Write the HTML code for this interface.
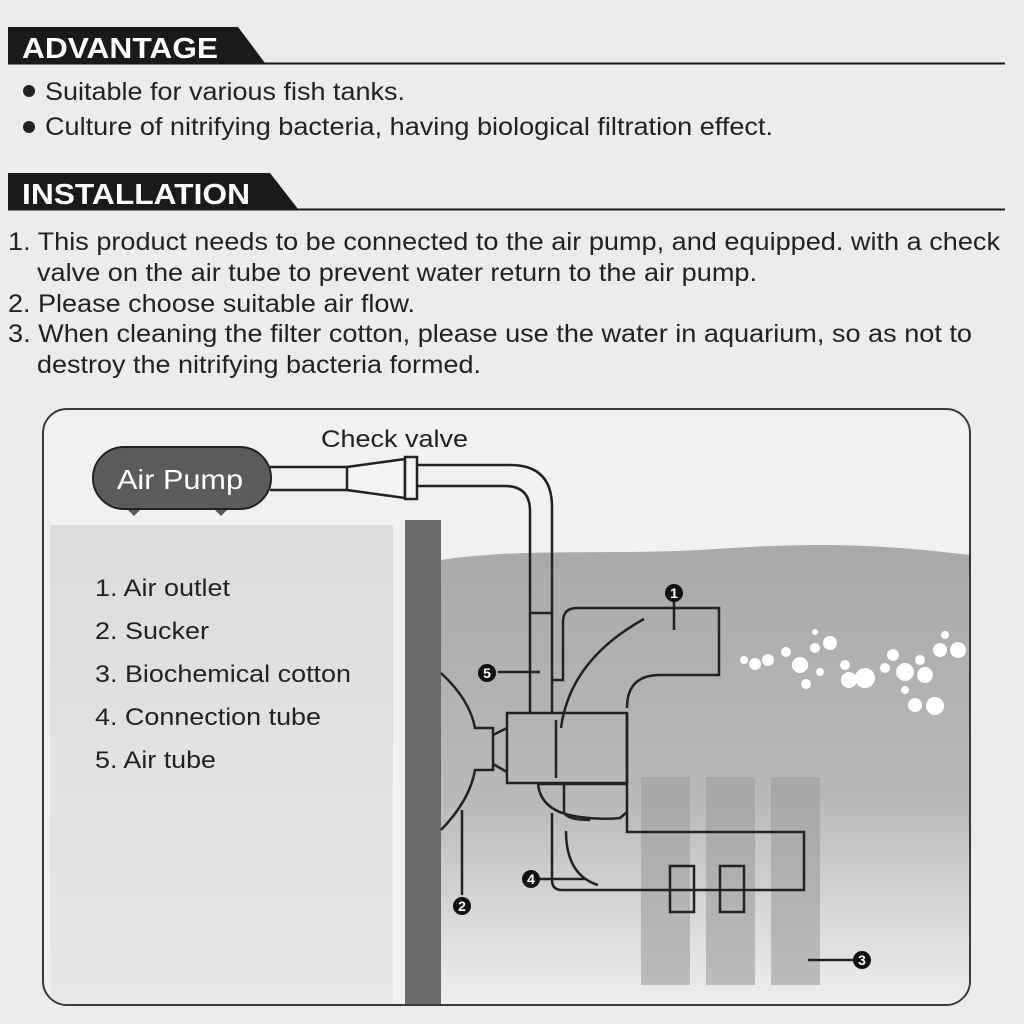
<!DOCTYPE html>
<html><head><meta charset="utf-8"><style>
html,body{margin:0;padding:0;background:#ececea;}
svg{display:block}
text{font-family:"Liberation Sans",Arial,sans-serif;}
</style></head><body>
<svg width="1024" height="1024" viewBox="0 0 1024 1024" xmlns="http://www.w3.org/2000/svg">
<defs>
<linearGradient id="wg" x1="0" y1="0" x2="0" y2="1">
<stop offset="0" stop-color="#a9a9a9"/><stop offset="0.55" stop-color="#b9b9b9"/><stop offset="1" stop-color="#efefef"/>
</linearGradient>
<linearGradient id="lg" x1="0" y1="0" x2="0" y2="1">
<stop offset="0" stop-color="#dcdcdc"/><stop offset="1" stop-color="#e8e8e8"/>
</linearGradient>
</defs>
<rect width="1024" height="1024" fill="#ececea"/>
<polygon points="8,27 238,27 265,63 8,63" fill="#1a1a1a"/>
<line x1="8" y1="63.5" x2="1005" y2="63.5" stroke="#1a1a1a" stroke-width="2"/>
<text x="22" y="58" font-size="29" font-weight="bold" fill="#fff" textLength="196" lengthAdjust="spacingAndGlyphs">ADVANTAGE</text>
<circle cx="29" cy="91" r="6" fill="#222"/>
<text x="45" y="100" font-size="25" fill="#222" textLength="360" lengthAdjust="spacingAndGlyphs">Suitable for various fish tanks.</text>
<circle cx="29" cy="127" r="6" fill="#222"/>
<text x="45" y="135" font-size="25" fill="#222" textLength="728" lengthAdjust="spacingAndGlyphs">Culture of nitrifying bacteria, having biological filtration effect.</text>
<polygon points="8,173 270,173 298,209 8,209" fill="#1a1a1a"/>
<line x1="8" y1="209.5" x2="1005" y2="209.5" stroke="#1a1a1a" stroke-width="2"/>
<text x="22" y="204" font-size="29" font-weight="bold" fill="#fff" textLength="228" lengthAdjust="spacingAndGlyphs">INSTALLATION</text>
<g font-size="25" fill="#222">
<text x="8" y="250" textLength="992" lengthAdjust="spacingAndGlyphs">1. This product needs to be connected to the air pump, and equipped. with a check</text>
<text x="37" y="281" textLength="720" lengthAdjust="spacingAndGlyphs">valve on the air tube to prevent water return to the air pump.</text>
<text x="8" y="312" textLength="407" lengthAdjust="spacingAndGlyphs">2. Please choose suitable air flow.</text>
<text x="8" y="342" textLength="964" lengthAdjust="spacingAndGlyphs">3. When cleaning the filter cotton, please use the water in aquarium, so as not to</text>
<text x="37" y="373" textLength="444" lengthAdjust="spacingAndGlyphs">destroy the nitrifying bacteria formed.</text>
</g>
<rect x="43" y="409" width="927" height="596" rx="24" fill="#f1f1f0" stroke="#3a3a3a" stroke-width="2"/>
<clipPath id="cf"><rect x="44" y="410" width="925" height="594" rx="23"/></clipPath>
<g clip-path="url(#cf)">
<rect x="50" y="525" width="343" height="480" fill="url(#lg)"/>
<path d="M441,560 C520,548 600,555 700,550 C780,545 850,540 969,555 L969,1005 L441,1005 Z" fill="url(#wg)"/>
<rect x="405" y="520" width="36" height="486" fill="#6a6a6a"/>
<rect x="641" y="777" width="49" height="208" fill="#9c9c9c" opacity="0.6"/>
<rect x="706" y="777" width="49" height="208" fill="#9c9c9c" opacity="0.6"/>
<rect x="771" y="777" width="49" height="208" fill="#9c9c9c" opacity="0.6"/>
</g>
<g font-size="24" fill="#222">
<text x="95" y="596" textLength="135" lengthAdjust="spacingAndGlyphs">1. Air outlet</text>
<text x="95" y="639" textLength="114" lengthAdjust="spacingAndGlyphs">2. Sucker</text>
<text x="95" y="682" textLength="256" lengthAdjust="spacingAndGlyphs">3. Biochemical cotton</text>
<text x="95" y="725" textLength="226" lengthAdjust="spacingAndGlyphs">4. Connection tube</text>
<text x="95" y="768" textLength="121" lengthAdjust="spacingAndGlyphs">5. Air tube</text>
</g>
<path d="M128,510 l6,6 l6,-6 M215,510 l6,6 l6,-6" fill="#5a5a5a"/>
<rect x="93" y="447" width="178" height="62" rx="31" fill="#5c5c5c" stroke="#222" stroke-width="2"/>
<text x="117" y="489" font-size="28" fill="#fff" textLength="126" lengthAdjust="spacingAndGlyphs">Air Pump</text>
<text x="321" y="447" font-size="24" fill="#222" textLength="147" lengthAdjust="spacingAndGlyphs">Check valve</text>
<g stroke="#222" stroke-width="2.5" fill="none">
<path d="M270,467 H347 M270,490 H347" />
<path d="M347,467 L405,459 L405,498 L347,490 Z" fill="#f4f4f4"/>
<rect x="405" y="457" width="12" height="42" fill="#f4f4f4"/>
<path d="M417,465 H510 Q552,465 552,507 V712" />
<path d="M417,486 H505 Q530,486 530,511 V712" />
<path d="M530,613 H552"/>
<path d="M552,680 H563 V622 Q563,608 577,608 H719 V675 H660 Q627,675 627,708"/>
<path d="M561,728 Q570,660 644,619"/>
<line x1="674" y1="595" x2="674" y2="630"/>
<rect x="507" y="713" width="120" height="70"/>
<line x1="556" y1="720" x2="556" y2="778"/>
<path d="M627,713 V832 H804 V890 H562 Q552,890 552,880 V813"/>
<path d="M538,783 Q540,812 580,817 Q600,820 620,818 L627,812"/>
<path d="M564,783 V812 Q566,820 590,820"/>
<path d="M539,784 H627"/>
<path d="M566,831 Q566,875 598,885"/>
<rect x="670" y="866" width="24" height="46"/>
<rect x="720" y="866" width="24" height="46"/>
<path d="M441,673 Q470,700 475,728 H493 V770 H475 Q470,800 441,830"/>
<path d="M493,735 L507,728 M493,764 L507,772"/>
<line x1="462" y1="810" x2="462" y2="895"/>
<line x1="498" y1="672" x2="540" y2="672"/>
<line x1="535" y1="879" x2="585" y2="879"/>
<line x1="808" y1="960" x2="855" y2="960"/>
</g>
<g font-size="14" font-weight="bold" text-anchor="middle">
<circle cx="674" cy="593" r="9" fill="#111"/><text x="674" y="598" fill="#fff">1</text>
<circle cx="462" cy="906" r="9" fill="#111"/><text x="462" y="911" fill="#fff">2</text>
<circle cx="862" cy="960" r="9" fill="#111"/><text x="862" y="965" fill="#fff">3</text>
<circle cx="531" cy="879" r="9" fill="#111"/><text x="531" y="884" fill="#fff">4</text>
<circle cx="487" cy="673" r="9" fill="#111"/><text x="487" y="678" fill="#fff">5</text>
</g>
<g fill="#fff">
<circle cx="744" cy="660" r="4"/><circle cx="755" cy="664" r="6"/><circle cx="768" cy="660" r="6"/><circle cx="786" cy="652" r="5"/><circle cx="800" cy="665" r="8"/><circle cx="815" cy="648" r="5"/><circle cx="830" cy="643" r="7"/><circle cx="806" cy="684" r="5"/><circle cx="820" cy="672" r="4"/><circle cx="845" cy="665" r="5"/><circle cx="865" cy="678" r="10"/><circle cx="849" cy="680" r="8"/><circle cx="885" cy="668" r="5"/><circle cx="893" cy="655" r="6"/><circle cx="905" cy="672" r="9"/><circle cx="920" cy="660" r="5"/><circle cx="940" cy="650" r="7"/><circle cx="958" cy="650" r="8"/><circle cx="925" cy="675" r="8"/><circle cx="915" cy="705" r="7"/><circle cx="935" cy="706" r="9"/><circle cx="905" cy="690" r="4"/><circle cx="945" cy="635" r="4"/><circle cx="815" cy="632" r="3"/>
</g>
</svg>
</body></html>
